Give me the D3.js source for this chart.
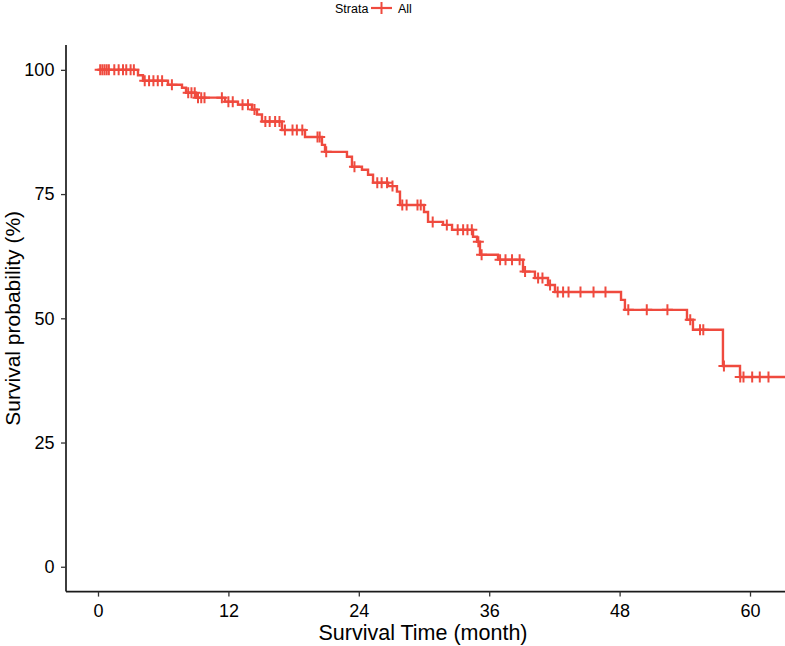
<!DOCTYPE html>
<html>
<head>
<meta charset="utf-8">
<script src="https://cdn.jsdelivr.net/npm/d3@7"></script>
<style>
  html, body { margin: 0; padding: 0; background: #fff; }
  svg { display: block; font-family: "Liberation Sans", Arial, sans-serif; }
</style>
</head>
<body>
<svg id="chart" width="785" height="646"></svg>
<script>
// ---- Data ----
const stepTime = [0, 3.68, 4.14, 6.44, 7.73, 8.10, 9.02, 11.69, 12.88, 14.17, 14.63, 15.09,
  16.93, 19.05, 20.61, 20.89, 22.91, 23.37, 24.29, 24.85, 25.31, 26.69, 27.51, 27.79,
  30.0, 30.37, 31.75, 32.58, 34.51, 34.88, 35.15, 36.81, 39.11, 40.21, 41.41, 42.05,
  48.13, 48.49, 54.20, 54.75, 57.51, 59.08];
const stepSurv = [100, 98.9, 97.8, 97.0, 96.4, 95.4, 94.4, 93.6, 93.0, 92.0, 91.0, 89.6,
  87.9, 86.5, 84.9, 83.5, 82.5, 80.5, 79.9, 78.9, 77.3, 76.6, 75.5, 72.8,
  71.4, 69.4, 68.8, 67.8, 66.4, 65.4, 62.8, 61.8, 59.4, 58.1, 56.7, 55.3,
  53.7, 51.7, 49.7, 47.7, 40.4, 38.2];
const lastTime = 64;
const censorTime = [0.2, 0.4, 0.6, 0.8, 1.0, 1.5, 1.9, 2.3, 2.6, 3.0, 3.3,
  4.3, 4.7, 5.1, 5.5, 5.9, 6.8, 8.3, 8.6, 8.9, 9.2, 9.5, 9.8,
  11.4, 12.0, 12.4, 13.3, 13.8, 14.4, 15.4, 15.8, 16.3, 16.7,
  17.2, 17.9, 18.3, 18.8, 20.2, 20.4, 21.0, 23.6,
  25.7, 26.1, 26.6, 27.1, 28.0, 28.4, 29.4, 29.7,
  30.8, 32.1, 33.1, 33.6, 34.0, 34.4, 35.0, 35.3,
  37.0, 37.5, 38.1, 38.8, 39.3, 40.5, 40.9, 41.6,
  42.3, 42.8, 43.3, 44.4, 45.6, 46.7, 48.8, 50.5, 52.4,
  54.5, 55.4, 55.7, 57.6, 59.1, 59.4, 60.2, 60.9, 61.7];
const xTicks = [0, 12, 24, 36, 48, 60];
const yTicks = [0, 25, 50, 75, 100];
const strataLabel = "All";

(function () {
// ---- Layout ----
const color = "#EF4A3E";
const svg = d3.select("#chart");
const pLeft = 66, pRight = 785, pTop = 45, pBottom = 591.6;

const x = d3.scaleLinear().domain([-2.945, 63.22]).range([pLeft, pRight]);
const y = d3.scaleLinear().domain([-5, 105]).range([pBottom, pTop]);

svg.append("defs").append("clipPath").attr("id", "clip")
  .append("rect").attr("x", pLeft).attr("y", pTop - 10)
  .attr("width", pRight - pLeft).attr("height", pBottom - pTop + 10);

// step curve data
const pts = stepTime.map((t, i) => [t, stepSurv[i]]);
pts.push([lastTime, stepSurv[stepSurv.length - 1]]);
const line = d3.line().x(d => x(d[0])).y(d => y(d[1])).curve(d3.curveStepAfter);

const g = svg.append("g").attr("clip-path", "url(#clip)");
g.append("path").datum(pts).attr("d", line)
  .attr("fill", "none").attr("stroke", color).attr("stroke-width", 2.4);

function survAt(t) {
  let s = stepSurv[0];
  for (let i = 0; i < stepTime.length; i++) if (stepTime[i] <= t) s = stepSurv[i];
  return s;
}
const half = 5.5;
g.append("g").selectAll("path").data(censorTime).join("path")
  .attr("d", t => {
    const cx = x(t), cy = y(survAt(t));
    return `M${cx - half},${cy}H${cx + half}M${cx},${cy - half}V${cy + half}`;
  })
  .attr("stroke", color).attr("stroke-width", 2).attr("fill", "none");

// ---- Axes ----
const xAxis = d3.axisBottom(x).tickValues(xTicks).tickSize(5).tickSizeOuter(0);
const yAxis = d3.axisLeft(y).tickValues(yTicks).tickSize(5).tickSizeOuter(0);

const gx = svg.append("g").attr("transform", `translate(0,${pBottom})`).call(xAxis);
const gy = svg.append("g").attr("transform", `translate(${pLeft},0)`).call(yAxis);
[gx, gy].forEach(a => {
  a.select(".domain").attr("stroke", "#1a1a1a").attr("stroke-width", 1.7);
  a.selectAll(".tick line").attr("stroke", "#333").attr("stroke-width", 1.3);
  a.selectAll(".tick text").attr("fill", "#000").attr("font-size", 18)
    .attr("font-family", "'Liberation Sans', Arial, sans-serif");
});
gx.select(".domain").attr("d", `M${pLeft},0H${pRight}`);
gy.select(".domain").attr("d", `M0,${pTop}V${pBottom}`);
gx.selectAll(".tick text").attr("dy", "0.95em");
gy.selectAll(".tick text").attr("dx", "-0.2em");

// ---- Titles ----
svg.append("text").attr("x", 423).attr("y", 640)
  .attr("text-anchor", "middle").attr("font-size", 21.5).attr("fill", "#000")
  .text("Survival Time (month)");
svg.append("text").attr("transform", `translate(20,${(pTop + pBottom) / 2}) rotate(-90)`)
  .attr("text-anchor", "middle").attr("font-size", 21).attr("fill", "#000")
  .text("Survival probability (%)");

// ---- Legend ----
const lg = svg.append("g");
lg.append("text").attr("x", 335).attr("y", 13).attr("font-size", 12.5).attr("fill", "#000").text("Strata");
lg.append("line").attr("x1", 371).attr("x2", 392).attr("y1", 8).attr("y2", 8)
  .attr("stroke", color).attr("stroke-width", 2.2);
lg.append("path").attr("d", `M375.5,8H387.5M381.5,2V14`).attr("stroke", color).attr("stroke-width", 2);
lg.append("text").attr("x", 398).attr("y", 13).attr("font-size", 12.5).attr("fill", "#000").text(strataLabel);
})();
</script>
</body>
</html>
